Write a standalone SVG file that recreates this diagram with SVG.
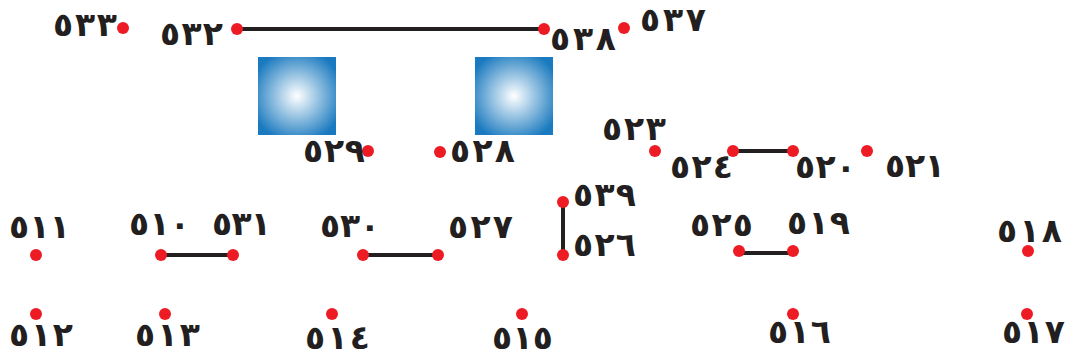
<svg xmlns="http://www.w3.org/2000/svg" width="1068" height="357" viewBox="0 0 1068 357">
<style>
.lbl{font-family:"DejaVu Sans",sans-serif;font-size:33px;font-weight:bold;fill:#231f20}
.dot{fill:#ed1c24}
.ln{stroke:#231f20;stroke-width:4;fill:none}
</style>
<defs>
<radialGradient id="g" cx="0.5" cy="0.5" r="0.6">
<stop offset="0" stop-color="#ffffff"/>
<stop offset="1" stop-color="#1a7abf"/>
</radialGradient>
</defs>
<rect width="1068" height="357" fill="#fff"/>
<g id="connectors">
<line class="ln" x1="237" y1="29" x2="544" y2="29"/>
<line class="ln" x1="733" y1="151" x2="793" y2="151"/>
<line class="ln" x1="161" y1="255" x2="233" y2="255"/>
<line class="ln" x1="363" y1="255" x2="438" y2="255"/>
<line class="ln" x1="563" y1="202" x2="563" y2="255"/>
<line class="ln" x1="739" y1="253" x2="793" y2="253"/>
</g>
<g id="sq1"><rect x="258" y="57" width="78" height="78" fill="url(#g)"/></g>
<g id="sq2"><rect x="475" y="57" width="78" height="78" fill="url(#g)"/></g>
<g id="n533"><circle class="dot" cx="123" cy="28" r="6"/><text class="lbl" x="53" y="36" textLength="64" lengthAdjust="spacing">٥٣٣</text></g>
<g id="n532"><circle class="dot" cx="237" cy="29" r="6"/><text class="lbl" x="160" y="45" textLength="63" lengthAdjust="spacing">٥٣٢</text></g>
<g id="n538"><circle class="dot" cx="544" cy="29" r="6"/><text class="lbl" x="550" y="50" textLength="66" lengthAdjust="spacing">٥٣٨</text></g>
<g id="n537"><circle class="dot" cx="624" cy="28" r="6"/><text class="lbl" x="640" y="31" textLength="66" lengthAdjust="spacing">٥٣٧</text></g>
<g id="n529"><circle class="dot" cx="368" cy="151" r="6"/><text class="lbl" x="303" y="162" textLength="62" lengthAdjust="spacing">٥٢٩</text></g>
<g id="n528"><circle class="dot" cx="440" cy="152" r="6"/><text class="lbl" x="450" y="162" textLength="65" lengthAdjust="spacing">٥٢٨</text></g>
<g id="n523"><circle class="dot" cx="655" cy="151" r="6"/><text class="lbl" x="602" y="140" textLength="64" lengthAdjust="spacing">٥٢٣</text></g>
<g id="n524"><circle class="dot" cx="733" cy="151" r="6"/><text class="lbl" x="670" y="178" textLength="63" lengthAdjust="spacing">٥٢٤</text></g>
<g id="n520"><circle class="dot" cx="793" cy="151" r="6"/><text class="lbl" x="795" y="178" textLength="61" lengthAdjust="spacing">٥٢٠</text></g>
<g id="n521"><circle class="dot" cx="867" cy="151" r="6"/><text class="lbl" x="885" y="177" textLength="60" lengthAdjust="spacing">٥٢١</text></g>
<g id="n511"><circle class="dot" cx="36" cy="255" r="6"/><text class="lbl" x="9" y="238" textLength="61" lengthAdjust="spacing">٥١١</text></g>
<g id="n510"><circle class="dot" cx="161" cy="255" r="6"/><text class="lbl" x="129" y="235" textLength="61" lengthAdjust="spacing">٥١٠</text></g>
<g id="n531"><circle class="dot" cx="233" cy="255" r="6"/><text class="lbl" x="212" y="235" textLength="59" lengthAdjust="spacing">٥٣١</text></g>
<g id="n530"><circle class="dot" cx="363" cy="255" r="6"/><text class="lbl" x="320" y="237" textLength="60" lengthAdjust="spacing">٥٣٠</text></g>
<g id="n527"><circle class="dot" cx="438" cy="255" r="6"/><text class="lbl" x="448" y="238" textLength="65" lengthAdjust="spacing">٥٢٧</text></g>
<g id="n539"><circle class="dot" cx="563" cy="202" r="6"/><text class="lbl" x="573" y="206" textLength="63" lengthAdjust="spacing">٥٣٩</text></g>
<g id="n526"><circle class="dot" cx="563" cy="255" r="6"/><text class="lbl" x="573" y="256" textLength="63" lengthAdjust="spacing">٥٢٦</text></g>
<g id="n525"><circle class="dot" cx="739" cy="251" r="6"/><text class="lbl" x="690" y="236" textLength="63" lengthAdjust="spacing">٥٢٥</text></g>
<g id="n519"><circle class="dot" cx="793" cy="251" r="6"/><text class="lbl" x="787" y="234" textLength="63" lengthAdjust="spacing">٥١٩</text></g>
<g id="n518"><circle class="dot" cx="1028" cy="251" r="6"/><text class="lbl" x="997" y="242" textLength="65" lengthAdjust="spacing">٥١٨</text></g>
<g id="n512"><circle class="dot" cx="36" cy="314" r="6"/><text class="lbl" x="9" y="346" textLength="64" lengthAdjust="spacing">٥١٢</text></g>
<g id="n513"><circle class="dot" cx="165" cy="314" r="6"/><text class="lbl" x="135" y="346" textLength="65" lengthAdjust="spacing">٥١٣</text></g>
<g id="n514"><circle class="dot" cx="332" cy="314" r="6"/><text class="lbl" x="305" y="349" textLength="65" lengthAdjust="spacing">٥١٤</text></g>
<g id="n515"><circle class="dot" cx="522" cy="314" r="6"/><text class="lbl" x="492" y="349" textLength="61" lengthAdjust="spacing">٥١٥</text></g>
<g id="n516"><circle class="dot" cx="793" cy="314" r="6"/><text class="lbl" x="768" y="343" textLength="63" lengthAdjust="spacing">٥١٦</text></g>
<g id="n517"><circle class="dot" cx="1027" cy="314" r="6"/><text class="lbl" x="1002" y="343" textLength="63" lengthAdjust="spacing">٥١٧</text></g>
</svg>
